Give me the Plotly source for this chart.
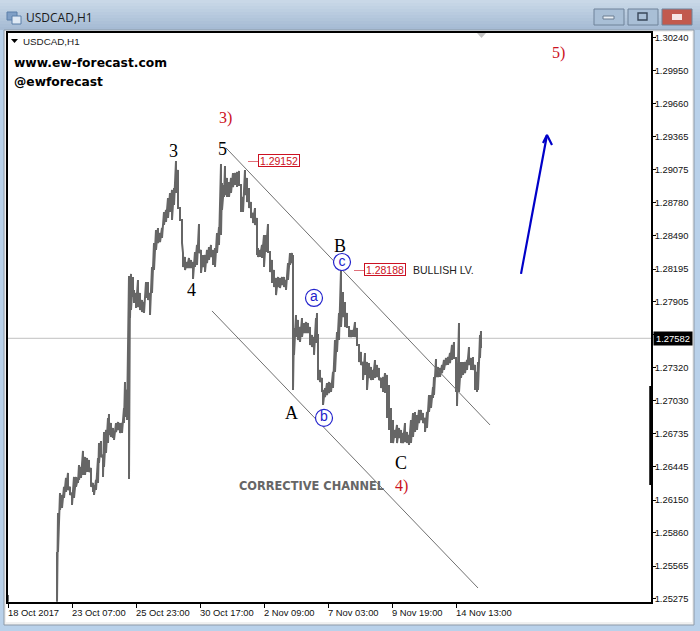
import numpy as np
import plotly.graph_objects as go

# Chart values (prices in points, 1 point = 0.00001), bar index = hourly bar number
bar_index = [0,49,50,52,54,56,58,60,62,64,66,68,70,71,73,75,77,79,81,83,85,86,88,90,91,93,95,96,98,100,101,103,105,106,108,110,112,114,116,117,119,121,
122,123,125,126,128,130,132,134,136,138,140,142,144,146,148,150,152,154,156,158,160,162,164,166,168,170,172,174,175,177,179,181,183,185,187,189,191,193,195,197,199,201,203,205,207,209,211,213,
214,216,217,219,221,223,225,227,229,231,233,235,237,239,241,243,245,247,249,250,252,254,256,258,260,262,264,266,268,270,272,274,276,278,280,282,284,285,
286,288,290,292,294,296,298,300,302,304,306,308,309,310,312,314,315,317,319,321,323,325,327,329,331,333,335,337,339,341,343,345,347,349,351,353,355,357,359,361,363,365,367,369,371,373,375,
377,379,381,383,385,387,389,391,393,395,397,399,401,403,405,407,409,411,413,415,417,419,421,423,425,426,428,430,432,434,436,438,440,442,444,446,448,449,451,453,455,457,459,461,463,465,467,469,470,472,473]
high_points = [125310,125691,126036,126213,126195,126267,126346,126390,126267,126213,126355,126355,126346,126461,126443,126585,126532,126523,126505,126435,126301,126284,126328,126523,126655,126673,126550,126753,126771,126877,126912,126832,126788,126744,126832,126841,126832,126832,126965,127195,127125,128134,
128072,128152,128125,128010,127983,128098,127983,127921,127903,128080,128080,127983,128213,128426,128541,128558,128514,128558,128700,128718,128824,128868,128895,128912,129151,129072,128735,128629,128337,128302,128257,128293,128275,128257,128346,128408,128594,128364,128319,128319,128364,128390,128408,128364,128381,128514,128567,129125,
128956,128939,129107,129001,128965,129001,129045,129045,129054,129063,128939,128833,129072,129001,128912,128788,128691,128735,128647,128381,128364,128408,128496,128496,128594,128346,128275,128187,128116,128125,128116,128125,128125,128098,128248,128337,128337,128319,
127674,127788,127744,127682,127761,127717,127726,127717,127682,127611,127594,127761,127806,127611,127302,127231,127125,127142,127186,127195,127186,127284,127567,127638,127806,128187,127992,127903,127806,127682,127656,127656,127726,127673,127523,127461,127372,127452,127372,127363,127328,127302,127390,127346,127319,127231,127240,
127275,127258,127169,126965,126859,126771,126815,126788,126771,126744,126832,126753,126726,126859,126921,126930,126903,126948,126948,126921,126877,126930,127080,127080,127151,127240,127399,127328,127319,127346,127390,127408,127416,127452,127523,127549,127408,127258,127717,127372,127372,127372,127390,127505,127408,127416,127346,127284,127372,127611,127647]
low_points = [125250,125250,125691,126063,126081,126169,126222,126240,126196,126107,126169,126267,126301,126328,126346,126373,126373,126399,126399,126267,126222,126196,126240,126301,126478,126532,126355,126443,126567,126655,126726,126708,126700,126682,126753,126771,126744,126744,126832,126886,126859,126337,
127761,127833,127948,127895,127850,127859,127833,127815,127806,127939,127921,127788,127983,128187,128364,128426,128434,128470,128585,128611,128647,128700,128629,128762,128868,128735,128629,128426,128213,128187,128204,128204,128204,128107,128213,128231,128337,128160,128213,128169,128248,128275,128302,128231,128213,128337,128408,128496,
128718,128833,128850,128833,128833,128868,128921,128939,128921,128939,128700,128700,128850,128788,128735,128647,128602,128585,128319,128302,128302,128293,128213,128346,128346,128169,128072,128036,127965,128036,128027,128054,128036,128010,128098,128231,128248,127125,
127435,127594,127567,127550,127594,127629,127629,127629,127523,127505,127435,127541,127611,127213,127195,127107,126992,127062,127080,127098,127107,127142,127284,127461,127567,127682,127770,127682,127682,127594,127594,127594,127594,127523,127372,127346,127213,127258,127125,127231,127213,127213,127231,127240,127213,127142,127107,
127098,126877,126771,126655,126655,126700,126655,126700,126655,126655,126664,126655,126638,126655,126708,126753,126771,126832,126859,126832,126753,126788,126930,126965,127054,127080,127240,127240,127240,127275,127302,127346,127346,127363,127390,127408,127107,126983,127107,127231,127258,127275,127302,127346,127302,127302,127125,127107,127125,127408,127496]

y_tick_values = [1.30240,1.29950,1.29660,1.29365,1.29075,1.28780,1.28490,1.28195,1.27905,1.27615,1.27320,1.27030,1.26735,1.26445,1.26150,1.25860,1.25565,1.25275]
x_tick_index = [0,64,128,192,256,320,384,448]
x_tick_labels = ["18 Oct 2017","23 Oct 07:00","25 Oct 23:00","30 Oct 17:00","2 Nov 09:00","7 Nov 03:00","9 Nov 19:00","14 Nov 13:00"]
last_price = 1.27582
level_wave3 = 1.29152
level_b = 1.28188
upper_channel_x = [218, 482]
upper_channel_y = [1.29267, 1.26815]
lower_channel_x = [204, 470]
lower_channel_y = [1.27824, 1.25372]
arrow_x = [513, 539]
arrow_y = [1.28152, 1.29381]
arrow_left_x = [535, 539, 544]
arrow_left_y = [1.29310, 1.29381, 1.29293]
circle_labels = ["a", "b", "c"]
circle_x = [306, 316, 334]
circle_y = [1.27939, 1.26877, 1.28257]
black_labels = [("3",165,1.29240),("5",214,1.29258),("4",183,1.28010),("A",283,1.26920),("B",332,1.28395),("C",393,1.26480)]
red_labels = [("3)",217,1.29530),("4)",393,1.26275),("5)",550,1.30105)]

W, H = 700, 631
L, R, T, B = 8, 651, 33, 602
px = lambda v: (v - L) / (R - L)
py = lambda v: (B - v) / (B - T)

high = np.array(high_points) / 1e5
low = np.array(low_points) / 1e5

# Every bar drawn as a high-low stroke, strokes linked so the series reads as one jagged trace
path_x, path_y = [], []
for i, (bx, h, l) in enumerate(zip(bar_index, high, low)):
    path_x += [bx, bx]
    path_y += [h, l]
    if bx == 0:
        path_x.append(None)
        path_y.append(None)

fig = go.Figure()
fig.add_trace(go.Scatter(x=path_x, y=path_y, mode="lines", line=dict(color="#666666", width=2), hoverinfo="skip"))
line_gray = dict(color="#707070", width=1)
fig.add_trace(go.Scatter(x=upper_channel_x, y=upper_channel_y, mode="lines", line=line_gray))
fig.add_trace(go.Scatter(x=lower_channel_x, y=lower_channel_y, mode="lines", line=line_gray))
arrow_line = dict(color="#0000c8", width=2.2)
fig.add_trace(go.Scatter(x=arrow_x, y=arrow_y, mode="lines", line=arrow_line))
fig.add_trace(go.Scatter(x=arrow_left_x, y=arrow_left_y, mode="lines", line=arrow_line))
fig.add_trace(go.Scatter(x=circle_x, y=circle_y, mode="markers+text", text=circle_labels,
    textposition="middle center", textfont=dict(family="Liberation Sans", size=14, color="#2222cc"),
    marker=dict(symbol="circle", size=17, color="white", line=dict(color="#2222cc", width=1.2))))

shapes = []
def rect(x0, y0, x1, y1, fill, line=None, lw=1, layer="below"):
    shapes.append(dict(type="rect", xref="paper", yref="paper", x0=px(x0), x1=px(x1), y0=py(y0), y1=py(y1),
                       fillcolor=fill, line=dict(color=line or fill, width=lw if line else 0), layer=layer))

# title-bar gradient
strip_cols = ["#c9d8e7","#c5d5e5","#c1d2e3","#bdcfe1","#b9cbdf","#b5c8dd","#b1c5da","#adc1d8","#a9bed6","#a6bbd4"]
for i, c in enumerate(strip_cols):
    rect(0, i * 3, W, (i + 1) * 3 + 1, c)
rect(0, 30, 4, 631, "#b9d1ea")
rect(694, 30, 700, 631, "#b9d1ea")
rect(0, 625, 700, 631, "#b9d1ea")
# window frame
rect(4, 30, 694, 625, "#f0f0f0", "#8d9aa8")
rect(6, 32, 692, 622, "#ffffff")
# window buttons
for x0, fill in [(593, "#a9bfd6"), (627, "#a9bfd6"), (661, "#c25a4e")]:
    rect(x0 + 1, 9, x0 + 31, 25, fill, "#6f8299")
rect(603, 16, 614, 19, "#e8eef4", "#6b7d90")
rect(638, 13, 647, 20, "#a9bfd6", "#39485a", 1.4)
rect(672, 14, 682, 20, "#f5e6e4")
# icon
rect(7, 12, 17, 20, "#7f9fc6", "#5b7ea8")
rect(12, 16, 21, 24, "#dfe9f4", "#5b7ea8")
# right-axis thick black bar
shapes.append(dict(type="line", xref="paper", yref="paper", x0=px(651), x1=px(651), y0=py(386), y1=py(485),
                   line=dict(color="#000000", width=3.5), layer="above"))
# level boxes' leaders
rect(248, 161, 258, 161.6, "#cc1122", layer="above")
rect(354, 270, 364, 270.6, "#cc1122", layer="above")
# top triangle and menu triangle
shapes.append(dict(type="path", xref="paper", yref="paper",
    path=f"M {px(477)} {py(33)} L {px(486)} {py(33)} L {px(481.5)} {py(38)} Z", fillcolor="#c4c4c4", line_width=0))
shapes.append(dict(type="path", xref="paper", yref="paper",
    path=f"M {px(11)} {py(39)} L {px(18)} {py(39)} L {px(14.5)} {py(43)} Z", fillcolor="#000000", line_width=0))
# current price line
shapes.append(dict(type="line", xref="paper", yref="y", x0=0, x1=1, y0=last_price, y1=last_price,
                   line=dict(color="#c0c0c0", width=1), layer="below"))

ann = []
def text(x, y, s, size, color="#000000", family="Liberation Sans", anchor="left", **kw):
    ann.append(dict(xref="paper", yref="paper", x=px(x), y=py(y), text=s, showarrow=False, xanchor=anchor,
                    yanchor="middle", font=dict(family=family, size=size, color=color), borderpad=0, **kw))

text(25, 17.5, "USDCAD,H1", 12, "#1a1a1a", "Open Sans")
text(22, 41, "USDCAD,H1", 9.8, "#1a1a1a")
text(13, 63, "<b>www.ew-forecast.com</b>", 12.3, family="DejaVu Sans")
text(13, 82, "<b>@ewforecast</b>", 12.3, family="DejaVu Sans")
text(238, 486, "<b>CORRECTIVE CHANNEL</b>", 11.4, "#666666", family="DejaVu Sans")
text(412, 270, "BULLISH LV.", 10.5, "#222222")

for s, x, y in black_labels:
    ann.append(dict(x=x, y=y, text=s, showarrow=False, font=dict(family="Liberation Serif", size=18, color="#000000")))
for s, x, y in red_labels:
    ann.append(dict(x=x, y=y, text=s, showarrow=False, font=dict(family="Liberation Serif", size=16, color="#cc1122")))
for val, x in [(level_wave3, 279), (level_b, 385)]:
    ann.append(dict(x=x - 8, y=val, text=f"{val:.5f}", showarrow=False, width=40, height=11, bgcolor="white",
                    bordercolor="#cc1122", borderwidth=1, borderpad=0,
                    font=dict(family="Liberation Sans", size=10.5, color="#cc1122")))
for lab, idx in zip(x_tick_labels, x_tick_index):
    text(L + idx - 1, 612, lab, 9.4, "#111111")
# current price tag
ann.append(dict(xref="paper", yref="y", x=px(653), y=last_price, text=f"{last_price:.5f}", showarrow=False, xanchor="left",
                width=38, height=13, bgcolor="#000000", font=dict(family="Liberation Sans", size=9.4, color="#ffffff"), borderpad=0))

fig.update_layout(
    width=W, height=H, autosize=False,
    margin=dict(l=L, r=W - R, t=T, b=H - B, pad=0, autoexpand=False),
    paper_bgcolor="#b9d1ea", plot_bgcolor="#ffffff",
    showlegend=False, shapes=shapes, annotations=ann,
    xaxis=dict(range=[0, R - L], tickmode="array", tickvals=x_tick_index, showticklabels=False, ticks="outside",
               ticklen=4, tickcolor="#000000", showgrid=False, zeroline=False, showline=True, linecolor="#000000",
               linewidth=1.5, mirror=True),
    yaxis=dict(range=[1.25248, 1.30284], side="right", tickmode="array", tickvals=y_tick_values,
               ticktext=[f"{v:.5f}" for v in y_tick_values], ticks="outside", ticklen=3, tickcolor="#000000",
               ticklabelstandoff=-3,
               tickfont=dict(family="Liberation Sans", size=9.4, color="#111111"), showgrid=False, zeroline=False,
               showline=True, linecolor="#000000", linewidth=1.5, mirror=True),
)

fig.write_html("out.html", config=dict(displayModeBar=False),
               post_script="document.body.style.margin='0';document.body.style.overflow='hidden';")
